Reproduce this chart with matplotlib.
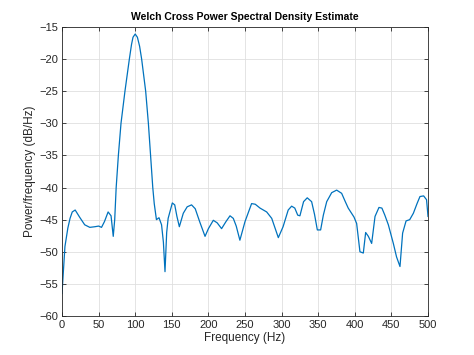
"""Welch cross power spectral density estimate, redrawn in a MATLAB-like style."""

import matplotlib
matplotlib.use("Agg")
import matplotlib.pyplot as plt

# values (Hz, dB/Hz)
freq = [0, 4, 8, 11, 14, 18, 24, 31, 38, 45, 50, 54, 58, 63, 67, 70, 72,
        74, 77, 80.6, 86, 92, 95, 97, 100, 103, 106, 108.8, 114.3, 118, 121,
        124, 126, 129,
        132.5, 136, 138.5, 140.7, 143, 145, 150.7, 154, 157, 160.3, 165.7,
        171, 177, 182, 188, 195.4, 200, 206.7, 212, 218, 224, 229.5, 234,
        238, 243, 250, 259, 264, 270.5, 279.6, 286.5, 291, 295.5, 302, 309,
        313.7, 318, 322, 325, 330, 335, 341, 345, 348.8, 353.3, 357, 361.6,
        368.4, 375.2, 382, 387, 391, 398.9, 402.5, 407, 411.6, 414.8, 418.5,
        423, 427.6, 433, 437, 441, 445.8, 452.6, 457, 461.7, 465.3, 470, 475,
        480, 485, 489, 494, 498, 500]
psd = [-56.5, -49.2, -46.3, -44.8, -43.8, -43.5, -44.6, -45.8, -46.2, -46.1,
       -46.0, -46.2, -45.3, -43.8, -44.4, -47.6, -45.0,
       -40.0, -35.0, -30.0, -25.0, -20.0, -17.7, -16.6, -16.1, -16.6, -18.0,
       -20.0, -25.0, -30.0, -35.0,
       -40.0, -42.5, -45.0,
       -44.7, -45.8, -48.5, -53.1, -47.0, -44.8, -42.4, -42.7, -44.5, -46.1,
       -44.0, -43.0, -42.7, -43.3, -45.3, -47.6, -46.4, -45.1, -45.5, -46.4,
       -45.3, -44.4, -44.8, -46.0, -48.2, -45.3, -42.5, -42.6, -43.2, -43.8,
       -44.8, -46.3, -47.8, -46.1, -43.5, -42.9, -43.2, -44.3, -44.4, -42.2,
       -41.6, -42.2, -44.2, -46.6, -46.6, -44.3, -42.2, -40.8, -40.4, -40.9,
       -42.2, -43.2, -44.6, -45.6, -50.0, -50.2, -47.0, -47.6, -48.7, -44.5,
       -43.1, -43.2, -44.3, -45.8, -48.7, -50.8, -52.3, -47.1, -45.2, -45.0,
       -44.0, -42.5, -41.4, -41.3, -41.9, -44.5]

xticks = list(range(0, 501, 50))
yticks = list(range(-60, -14, 5))

plt.rcParams["font.family"] = ["Liberation Sans", "DejaVu Sans"]
INK = "#262626"

fig = plt.figure(figsize=(4.74, 3.55), dpi=100)
ax = fig.add_axes([0.1308, 0.1099, 0.7722, 0.8141])
ax.plot(freq, psd, color="#0072BD", lw=0.9)

ax.set_xlim(0, 500)
ax.set_ylim(-60, -15)
ax.set_xticks(xticks)
ax.set_yticks(yticks)
ax.grid(True, color="#DFDFDF", lw=0.6)
ax.set_axisbelow(True)
ax.tick_params(direction="in", top=True, right=True, length=3, width=0.6,
               labelsize=8, colors=INK, pad=3)
for s in ax.spines.values():
    s.set_color(INK)
    s.set_linewidth(0.6)

ax.set_title("Welch Cross Power Spectral Density Estimate", fontsize=7.5,
             fontweight="bold", color="black", pad=5)
ax.set_xlabel("Frequency (Hz)", fontsize=8.5, color=INK, labelpad=1)
ax.set_ylabel("Power/frequency (dB/Hz)", fontsize=8.5, color=INK, labelpad=2)

fig.savefig("out.png", dpi=100)
